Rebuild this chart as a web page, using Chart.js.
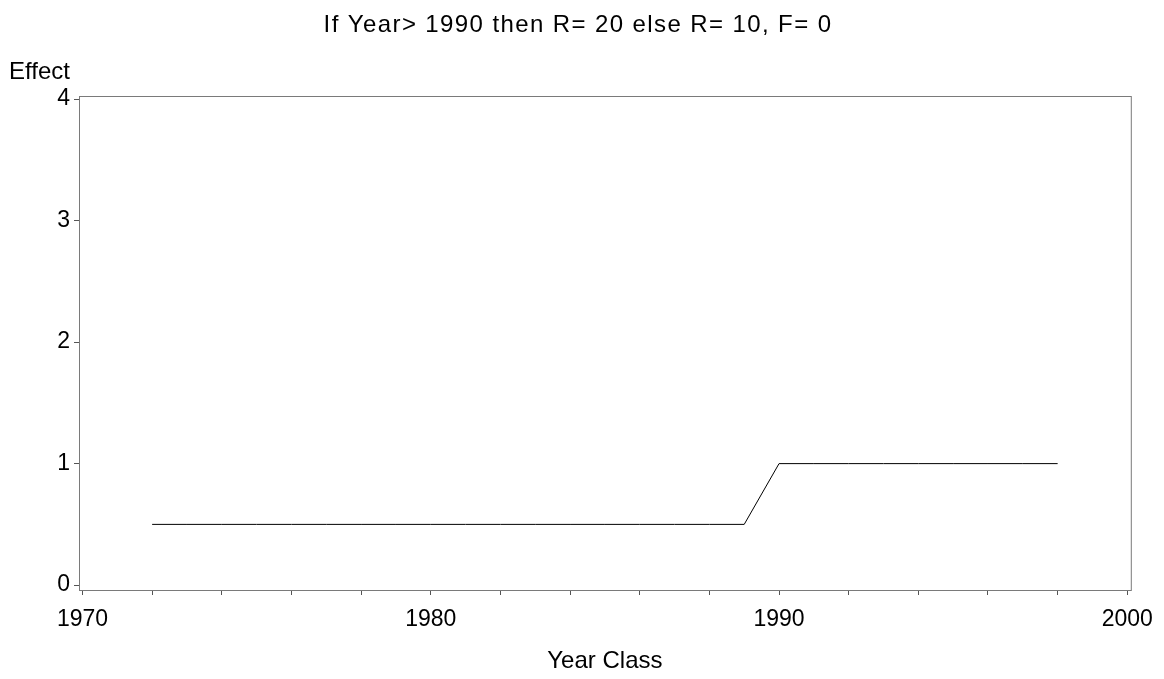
<!DOCTYPE html>
<html>
<head>
<meta charset="utf-8">
<script src="https://cdn.jsdelivr.net/npm/chart.js@4.4.0/dist/chart.umd.min.js"></script>
<style>
  html, body { margin: 0; padding: 0; background: #fff; }
  #wrap { width: 1164px; height: 679px; }
</style>
</head>
<body>
<div id="wrap"><canvas id="c" width="1164" height="679"></canvas></div>
<script>
// Данные графика
const years = [1972, 1973, 1974, 1975, 1976, 1977, 1978, 1979, 1980, 1981, 1982, 1983, 1984, 1985,
               1986, 1987, 1988, 1989, 1990, 1991, 1992, 1993, 1994, 1995, 1996, 1997, 1998];
const effect = [0.5, 0.5, 0.5, 0.5, 0.5, 0.5, 0.5, 0.5, 0.5, 0.5, 0.5, 0.5, 0.5, 0.5,
                0.5, 0.5, 0.5, 0.5, 1, 1, 1, 1, 1, 1, 1, 1, 1];
const xMajorTicks = [1970, 1980, 1990, 2000];
const yTicks = [0, 1, 2, 3, 4];
const titleText = 'If Year> 1990 then R= 20 else R= 10, F= 0';

const FONT = '"Liberation Sans", Arial, sans-serif';

// Рамка, заголовок и подпись оси Y сверху
const framePlugin = {
    id: 'frame',
    afterDraw(chart) {
        const { ctx, chartArea: a } = chart;
        ctx.save();
        ctx.strokeStyle = '#7a7a7a';
        ctx.lineWidth = 1;
        ctx.strokeRect(a.left + 0.5, a.top + 0.5, a.right - a.left, a.bottom - a.top);
        ctx.fillStyle = '#000';
        ctx.textBaseline = 'alphabetic';

        ctx.font = '24px ' + FONT;
        ctx.textAlign = 'left';
        ctx.fillText('Effect', 9, 79);

        ctx.letterSpacing = '1.4px';
        ctx.textAlign = 'center';
        ctx.fillText(titleText, 578, 32);
        ctx.restore();
    }
};

new Chart(document.getElementById('c').getContext('2d'), {
    type: 'line',
    data: {
        datasets: [{
            data: years.map((y, i) => ({ x: y, y: effect[i] })),
            borderColor: '#000',
            borderWidth: 1,
            pointRadius: 0,
            tension: 0,
            fill: false
        }]
    },
    options: {
        responsive: false,
        animation: false,
        layout: { padding: { left: 0, right: 33, top: 96, bottom: 0 } },
        plugins: {
            legend: { display: false },
            tooltip: { enabled: false },
            title: { display: false }
        },
        scales: {
            x: {
                type: 'linear',
                min: 1969.9,
                max: 2000.1,
                afterBuildTicks(scale) {
                    const t = [];
                    for (let v = 1970; v <= 2000; v += 2) t.push({ value: v });
                    scale.ticks = t;
                },
                afterFit(scale) { scale.height = 89; },
                ticks: {
                    color: '#000',
                    font: { family: FONT, size: 23 },
                    maxRotation: 0,
                    autoSkip: false,
                    padding: 11,
                    callback: v => xMajorTicks.includes(v) ? String(v) : ''
                },
                grid: { drawOnChartArea: false, drawTicks: true, tickLength: 5, color: '#555' },
                border: { display: true, color: '#7a7a7a' },
                title: {
                    display: true,
                    text: 'Year Class',
                    color: '#000',
                    font: { family: FONT, size: 24 },
                    padding: { top: 0, bottom: 3 }
                }
            },
            y: {
                min: -0.04,
                max: 4.025,
                afterBuildTicks(scale) {
                    scale.ticks = yTicks.map(v => ({ value: v }));
                },
                afterFit(scale) { scale.width = 79; },
                ticks: {
                    color: '#000',
                    font: { family: FONT, size: 23 },
                    padding: 4
                },
                grid: { drawOnChartArea: false, drawTicks: true, tickLength: 5, color: '#555' },
                border: { display: true, color: '#7a7a7a' }
            }
        }
    },
    plugins: [framePlugin]
});
</script>
</body>
</html>
